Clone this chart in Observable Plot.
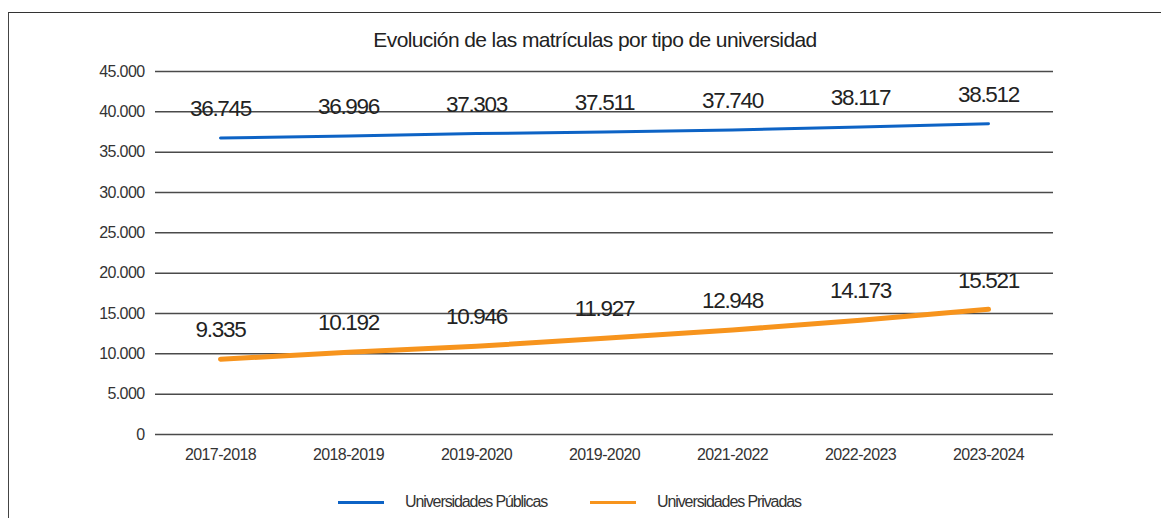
<!DOCTYPE html>
<html>
<head>
<meta charset="utf-8">
<script src="https://cdn.jsdelivr.net/npm/d3@7"></script>
<script src="https://cdn.jsdelivr.net/npm/@observablehq/plot@0.6"></script>
<style>
  html, body { margin: 0; padding: 0; background: #fff; }
  #wrap { position: relative; width: 1161px; height: 518px; overflow: hidden; font-family: "Liberation Sans", Arial, sans-serif; color: #222; }
  #frame { position: absolute; left: 8px; top: 12px; width: 1300px; height: 600px; border-left: 1.5px solid #444; border-top: 1.5px solid #333; }
  #title { position: absolute; left: 0; width: 1190px; top: 28px; text-align: center; font-size: 21px; letter-spacing: -0.6px; color: #222; }
  #chart { position: absolute; left: 0; top: 0; }
  #legend { position: absolute; top: 491px; left: 0; width: 1161px; height: 24px; }
  .lg { position: absolute; top: 0; display: flex; align-items: center; font-size: 16px; letter-spacing: -1.1px; color: #333; height: 22px; }
  .sw { display: inline-block; width: 46px; height: 3px; margin-right: 21px; }
  #chart svg text { letter-spacing: -0.6px; }
  #chart svg g.vals text { letter-spacing: -1.3px; }
</style>
</head>
<body>
<div id="wrap">
  <div id="frame"></div>
  <div id="chart"></div>
  <div id="title">Evolución de las matrículas por tipo de universidad</div>
  <div id="legend"></div>
</div>
<script>
const years = ["2017-2018", "2018-2019", "2019-2020", "2019-2020", "2021-2022", "2022-2023", "2023-2024"];
const publicas = [36745, 36996, 37303, 37511, 37740, 38117, 38512];
const privadas = [9335, 10192, 10946, 11927, 12948, 14173, 15521];
const seriesNames = ["Universidades Públicas", "Universidades Privadas"];
const seriesColors = ["#0d63c5", "#f7941d"];
const yTicks = [0, 5000, 10000, 15000, 20000, 25000, 30000, 35000, 40000, 45000];

const fmt = d3.formatLocale({decimal: ",", thousands: ".", grouping: [3], currency: ["", ""]}).format(",");

const rows = [];
years.forEach((y, i) => {
  rows.push({i, serie: seriesNames[0], value: publicas[i]});
  rows.push({i, serie: seriesNames[1], value: privadas[i]});
});
const pub = rows.filter(d => d.serie === seriesNames[0]);
const priv = rows.filter(d => d.serie === seriesNames[1]);

const W = 1161, H = 480;
const chart = Plot.plot({
  width: W,
  height: H,
  marginLeft: 155,
  marginRight: 108,
  marginTop: 71,
  marginBottom: 46,
  style: {fontFamily: '"Liberation Sans", Arial, sans-serif', background: "transparent", color: "#333"},
  x: {type: "point", domain: d3.range(years.length), padding: 0.5, label: null},
  y: {domain: [0, 45000], label: null},
  marks: [
    Plot.ruleY(yTicks, {stroke: "#4a4a4a", strokeWidth: 1.5}),
    Plot.axisY({ticks: yTicks, tickSize: 0, tickPadding: 11, tickFormat: fmt, fontSize: 16, label: null, fill: "#333"}),
    Plot.axisX({tickSize: 0, tickPadding: 14, tickFormat: i => years[i], fontSize: 16, label: null, fill: "#333"}),
    Plot.line(pub, {x: "i", y: "value", stroke: seriesColors[0], strokeWidth: 3}),
    Plot.line(priv, {x: "i", y: "value", stroke: seriesColors[1], strokeWidth: 5}),
    Plot.text(rows, {x: "i", y: "value", text: d => fmt(d.value), dy: -29, fontSize: 22.5, fill: "#222", className: "vals"})
  ]
});
document.getElementById("chart").appendChild(chart);

const legend = document.getElementById("legend");
const lefts = [338, 590];
seriesNames.forEach((n, k) => {
  const el = document.createElement("div");
  el.className = "lg";
  el.style.left = lefts[k] + "px";
  el.innerHTML = `<span class="sw" style="background:${seriesColors[k]}"></span><span>${n}</span>`;
  legend.appendChild(el);
});
</script>
</body>
</html>
